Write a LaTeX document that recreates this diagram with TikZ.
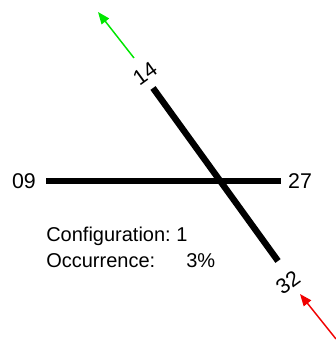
\documentclass[tikz,border=0pt]{standalone}
\usepackage{fontspec}
\setmainfont{Liberation Sans}
\usetikzlibrary{arrows.meta,positioning}
\definecolor{pathgreen}{RGB}{0,230,0}
\definecolor{pathred}{RGB}{240,0,0}
\frenchspacing
\tikzset{
  bar/.style={line width=4.8pt,line cap=butt},
  lbl/.style={font=\fontsize{16}{18}\selectfont,inner sep=0pt},
  infotext/.style={font=\fontsize{15}{17}\selectfont,inner sep=0pt,anchor=base west},
  greenarr/.style={-{Triangle[length=9pt,width=7pt]},line width=1.1pt,color=pathgreen},
  redarr/.style={-{Triangle[length=9pt,width=7pt]},line width=1.1pt,color=pathred}
}

\begin{document}
\begin{tikzpicture}[x=0.75pt,y=-0.75pt]
  \useasboundingbox (0,0) rectangle (335,341);

  % bar ends
  \coordinate (w) at (46,181);
  \coordinate (e) at (281,181);
  \coordinate (n) at (153,88);
  \coordinate (s) at (278,261);

  % port labels
  \node[lbl] (p09) at (24,181) {09};
  \node[lbl] (p27) at (300,181) {27};
  \node[lbl,rotate=36] (p14) at (145,74) {14};
  \node[lbl,rotate=36] (p32) at (288,283) {32};

  \draw[bar] (w)--(e);
  \draw[bar] (n)--(s);

  % flow in / out
  \coordinate (gtail) at (134,58);
  \coordinate (gtip) at (98,12);
  \coordinate (rtail) at (336,339);
  \coordinate (rtip) at (300,294);
  \draw[greenarr] (gtail)--(gtip);
  \draw[redarr] (rtail)--(rtip);

  \node[infotext] (cfg) at (46,241) {Configuration: 1};
  \node[infotext] (occ) at (46,267) {Occurrence:};
  \node[infotext] (pct) at (186,267) {3\%};
\end{tikzpicture}
\end{document}
